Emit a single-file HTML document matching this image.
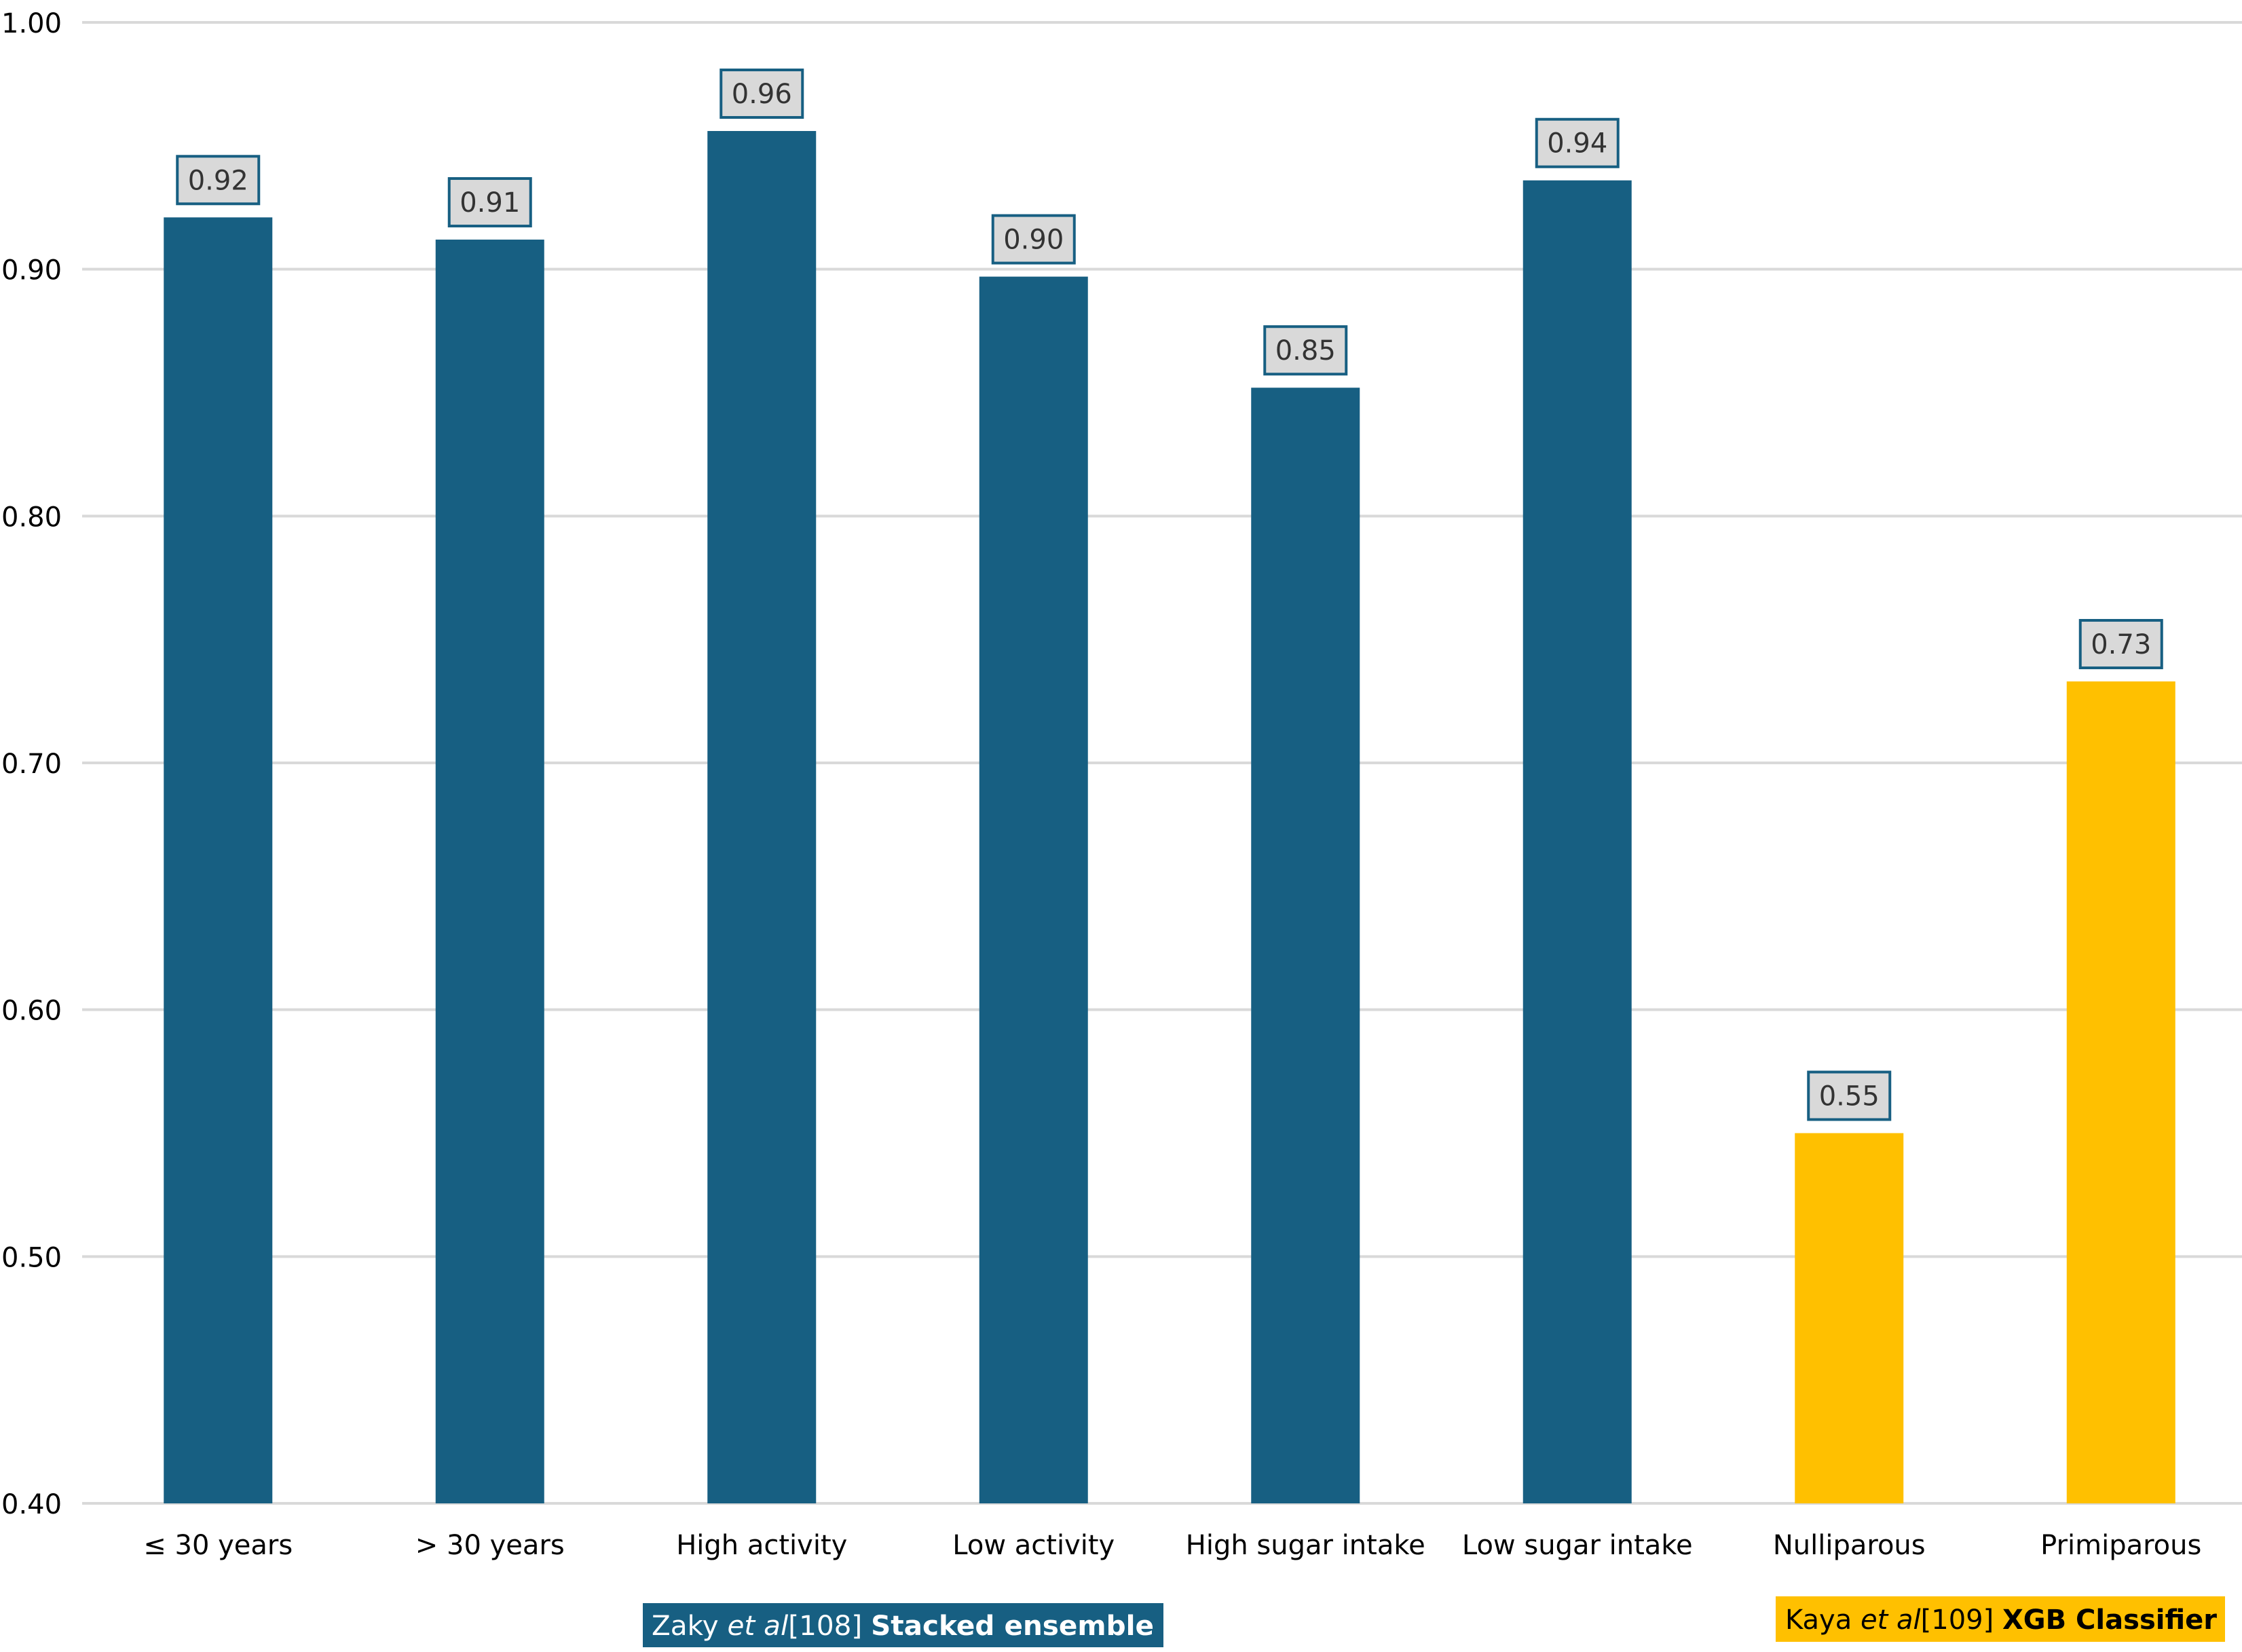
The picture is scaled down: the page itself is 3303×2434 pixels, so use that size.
<!DOCTYPE html>
<html><head><meta charset="utf-8"><style>
html,body{margin:0;padding:0;background:#fff}
svg{display:block}
text{font-family:"DejaVu Sans","Liberation Sans",sans-serif}
</style></head><body>
<svg id="chart" width="3303" height="2434" viewBox="0 0 3303 2434" xmlns="http://www.w3.org/2000/svg">
<g id="grid"></g>
<g id="yticks"></g>
<g id="bars"></g>
<g id="xlabels"></g>
<g>
<rect x="947" y="2362" width="767" height="65" fill="#175f82"></rect>
<text x="960" y="2409" font-size="40" fill="#fff" textLength="740" lengthAdjust="spacingAndGlyphs">Zaky <tspan font-style="italic">et al</tspan>[108] <tspan font-weight="bold">Stacked ensemble</tspan></text>
</g>
<g>
<rect x="2616" y="2352" width="662" height="67" fill="#ffc000"></rect>
<text x="2630" y="2400" font-size="40" fill="#000" textLength="636" lengthAdjust="spacingAndGlyphs">Kaya <tspan font-style="italic">et al</tspan>[109] <tspan font-weight="bold">XGB Classifier</tspan></text>
</g>
</svg>
<script>
const categories = ["≤ 30 years", "> 30 years", "High activity", "Low activity", "High sugar intake", "Low sugar intake", "Nulliparous", "Primiparous"];
const values = [0.921, 0.912, 0.956, 0.897, 0.852, 0.936, 0.550, 0.733];
const groups = ["zaky", "zaky", "zaky", "zaky", "zaky", "zaky", "kaya", "kaya"];
const yTicks = [0.40, 0.50, 0.60, 0.70, 0.80, 0.90, 1.00];

const NS = "http://www.w3.org/2000/svg";
const yMin = 0.4, yMax = 1.0, yTop = 33, yBot = 2215;
const x0 = 121, band = 400.5, barW = 160;
function y(v){ return yBot - (v - yMin) / (yMax - yMin) * (yBot - yTop); }
function xc(i){ return x0 + band * (i + 0.5); }
function mk(tag, attrs, parent){
  const e = document.createElementNS(NS, tag);
  for (const k in attrs) e.setAttribute(k, attrs[k]);
  parent.appendChild(e);
  return e;
}
const grid = document.getElementById("grid");
const yt = document.getElementById("yticks");
yTicks.forEach(t => {
  const l = mk("line", {x1: x0, x2: 3303, y1: y(t), y2: y(t), stroke: "#d9d9d9", "stroke-width": 4}, grid);
  
  
  const tx = mk("text", {x: 2, y: y(t) + 15, "font-size": 40, fill: "#000"}, yt);
  tx.textContent = t.toFixed(2);
  
  
});
const bars = document.getElementById("bars");
const xl = document.getElementById("xlabels");
values.forEach((v, i) => {
  const cx = xc(i);
  const r = mk("rect", {x: cx - barW/2, y: y(v), width: barW, height: yBot - y(v), fill: groups[i] === "zaky" ? "#175f82" : "#ffc000"}, bars);
  
  
  const by = y(v) - 18 - 74;
  const b = mk("rect", {x: cx - 60, y: by + 2, width: 120, height: 70, fill: "#d9d9d9", stroke: "#175f82", "stroke-width": 4}, bars);
  
  
  const vt = mk("text", {x: cx, y: by + 51, "font-size": 40, fill: "#333", "text-anchor": "middle"}, bars);
  vt.textContent = v.toFixed(2);
  
  
  const ct = mk("text", {x: cx, y: 2290, "font-size": 40, fill: "#000", "text-anchor": "middle"}, xl);
  ct.textContent = categories[i];
  
  
});
</script>
</body></html>
